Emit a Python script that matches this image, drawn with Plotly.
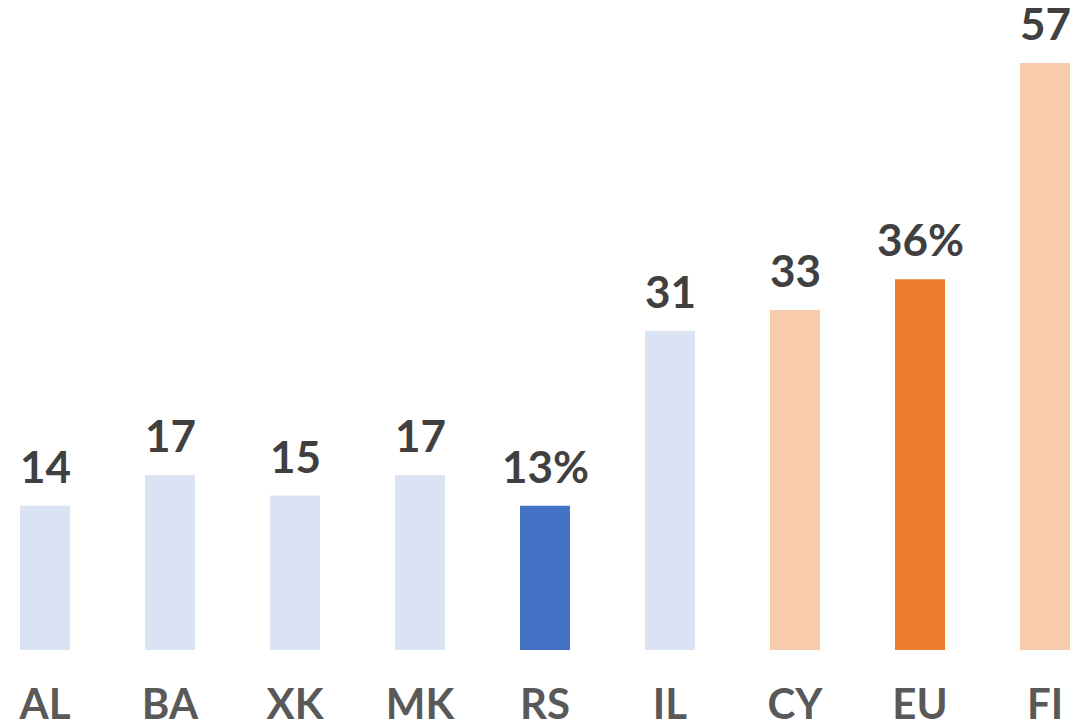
import plotly.graph_objects as go

categories = ["AL", "BA", "XK", "MK", "RS", "IL", "CY", "EU", "FI"]
values = [14, 17, 15, 17, 14, 31, 33, 36, 57]
labels = ["14", "17", "15", "17", "13%", "31", "33", "36%", "57"]
colors = ["#DAE3F3", "#DAE3F3", "#DAE3F3", "#DAE3F3", "#4472C4",
          "#DAE3F3", "#F8CBAD", "#ED7D31", "#F8CBAD"]

fig = go.Figure()
fig.add_trace(go.Bar(
    x=categories, y=values, width=0.4,
    marker=dict(color=colors, line=dict(width=0)),
    hoverinfo="skip",
))

for c, v, t in zip(categories, values, labels):
    fig.add_annotation(
        x=c, y=v, text=f"<b>{t}</b>", showarrow=False,
        yanchor="bottom", yshift=12,
        font=dict(family="Lato", size=44, color="#404040"),
    )

fig.update_layout(
    width=1089, height=728,
    margin=dict(l=0, r=0, t=0, b=86),
    paper_bgcolor="white", plot_bgcolor="white",
    showlegend=False,
    xaxis=dict(
        range=[-0.296, 8.416], showgrid=False, zeroline=False, showline=False,
        ticks="", tickfont=dict(family="Lato", size=42, color="#595959"),
        tickvals=categories, ticktext=[f"<b>{c}</b>" for c in categories],
        ticklabelstandoff=26,
    ),
    yaxis=dict(
        range=[0, 62.33], visible=False,
    ),
)

fig.write_html("out.html")
